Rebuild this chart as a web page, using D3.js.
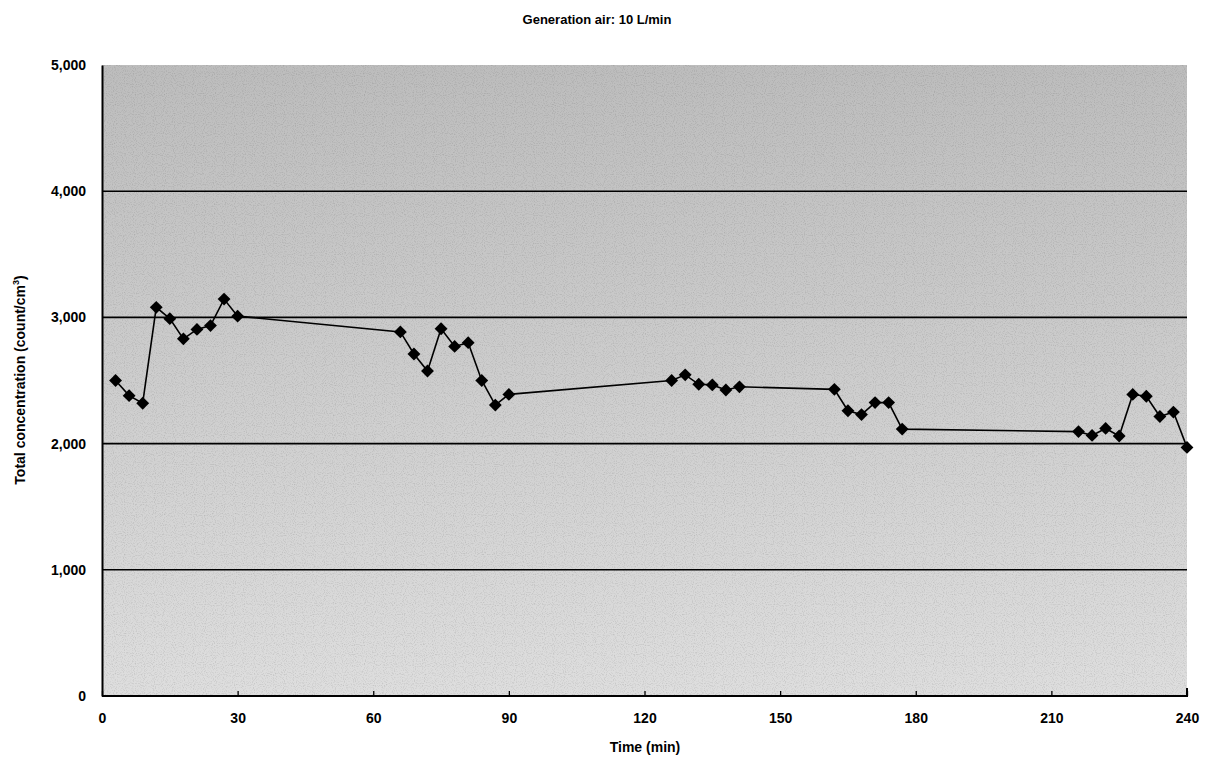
<!DOCTYPE html>
<html>
<head>
<meta charset="utf-8">
<script src="https://cdn.jsdelivr.net/npm/d3@7"></script>
<style>
  html, body { margin: 0; padding: 0; background: #fff; }
  svg { display: block; }
  text { font-family: "Liberation Sans", Arial, sans-serif; font-weight: bold; fill: #000; }
</style>
</head>
<body>
<svg id="chart" width="1209" height="764"></svg>
<script>
const times = [3,6,9,12,15,18,21,24,27,30,
  66,69,72,75,78,81,84,87,90,
  126,129,132,135,138,141,
  162,165,168,171,174,177,
  216,219,222,225,228,231,234,237,240];
const concentration = [2500,2380,2320,3080,2990,2830,2905,2935,3145,3010,
  2885,2710,2575,2910,2770,2800,2500,2305,2390,
  2500,2545,2470,2465,2425,2450,
  2430,2260,2230,2325,2325,2115,
  2095,2065,2120,2060,2390,2375,2215,2250,1970];
const xTicks = [0,30,60,90,120,150,180,210,240];
const yTicks = [0,1000,2000,3000,4000,5000];
const titleText = "Generation air: 10 L/min";
const xTitle = "Time (min)";

const svg = d3.select("#chart");
const m = {left: 102, right: 1187, top: 65, bottom: 696};
const x = d3.scaleLinear().domain([0,240]).range([m.left, m.right]);
const y = d3.scaleLinear().domain([0,5000]).range([m.bottom, m.top]);

const defs = svg.append("defs");
const grad = defs.append("linearGradient").attr("id","bg").attr("x1",0).attr("y1",0).attr("x2",0).attr("y2",1);
grad.append("stop").attr("offset","0%").attr("stop-color","#bdbdbd");
grad.append("stop").attr("offset","40%").attr("stop-color","#cacaca");
grad.append("stop").attr("offset","100%").attr("stop-color","#dedede");

const filt = defs.append("filter").attr("id","noise").attr("x",0).attr("y",0).attr("width","100%").attr("height","100%");
filt.append("feTurbulence").attr("type","fractalNoise").attr("baseFrequency","0.9").attr("numOctaves",1).attr("seed",3).attr("result","t");
filt.append("feColorMatrix").attr("in","t").attr("type","matrix")
  .attr("values","0 0 0 0 0  0 0 0 0 0  0 0 0 0 0  0 0 0 -2.6 1.35").attr("result","n");
filt.append("feComposite").attr("in","n").attr("in2","SourceGraphic").attr("operator","in");

// plot background
svg.append("rect").attr("x", m.left).attr("y", m.top)
  .attr("width", m.right - m.left).attr("height", m.bottom - m.top)
  .attr("fill", "url(#bg)");
svg.append("rect").attr("x", m.left).attr("y", m.top)
  .attr("width", m.right - m.left).attr("height", m.bottom - m.top)
  .attr("fill", "#000").attr("opacity", 0.12).attr("filter","url(#noise)");

// gridlines
svg.append("g").selectAll("line").data(yTicks.filter(d => d > 0 && d < 5000)).join("line")
  .attr("x1", m.left).attr("x2", m.right)
  .attr("y1", d => y(d)).attr("y2", d => y(d))
  .attr("stroke", "#000").attr("stroke-width", 1.6);

// axes
const xAxis = d3.axisBottom(x).tickValues(xTicks).tickSizeInner(-5).tickSizeOuter(0).tickPadding(17);
const gx = svg.append("g").attr("transform", `translate(0,${m.bottom})`).call(xAxis);
gx.select(".domain").attr("stroke-width", 2).attr("d", `M${m.left},0H${m.right}V-8`);
gx.selectAll(".tick line").attr("stroke-width", 1.3);
gx.selectAll("text").attr("font-size", 14).attr("font-family", "Liberation Sans, Arial, sans-serif").attr("font-weight","bold");

const yAxis = d3.axisLeft(y).tickValues(yTicks).tickSize(0).tickPadding(16).tickFormat(d3.format(","));
const gy = svg.append("g").attr("transform", `translate(${m.left},0)`).call(yAxis);
gy.select(".domain").attr("stroke-width", 2);
gy.selectAll("text").attr("font-size", 14).attr("font-family", "Liberation Sans, Arial, sans-serif").attr("font-weight","bold");

// line
const pts = times.map((t,i) => [t, concentration[i]]);
svg.append("path").datum(pts)
  .attr("fill","none").attr("stroke","#000").attr("stroke-width",1.6)
  .attr("d", d3.line().x(d => x(d[0])).y(d => y(d[1])));
svg.append("g").selectAll("path").data(pts).join("path")
  .attr("d", d3.symbol().type(d3.symbolDiamond2).size(105))
  .attr("transform", d => `translate(${x(d[0])},${y(d[1])})`)
  .attr("fill","#000");

// titles
svg.append("text").attr("x", 597).attr("y", 24).attr("text-anchor","middle")
  .attr("font-size", 13).text(titleText);
svg.append("text").attr("x", 645).attr("y", 752).attr("text-anchor","middle")
  .attr("font-size", 14).text(xTitle);
const yt = svg.append("text").attr("transform","translate(25,380) rotate(-90)")
  .attr("text-anchor","middle").attr("font-size", 14);
yt.append("tspan").text("Total concentration (count/cm");
yt.append("tspan").attr("font-size", 9).attr("dy", -6).text("3");
yt.append("tspan").attr("dy", 6).text(")");
</script>
</body>
</html>
